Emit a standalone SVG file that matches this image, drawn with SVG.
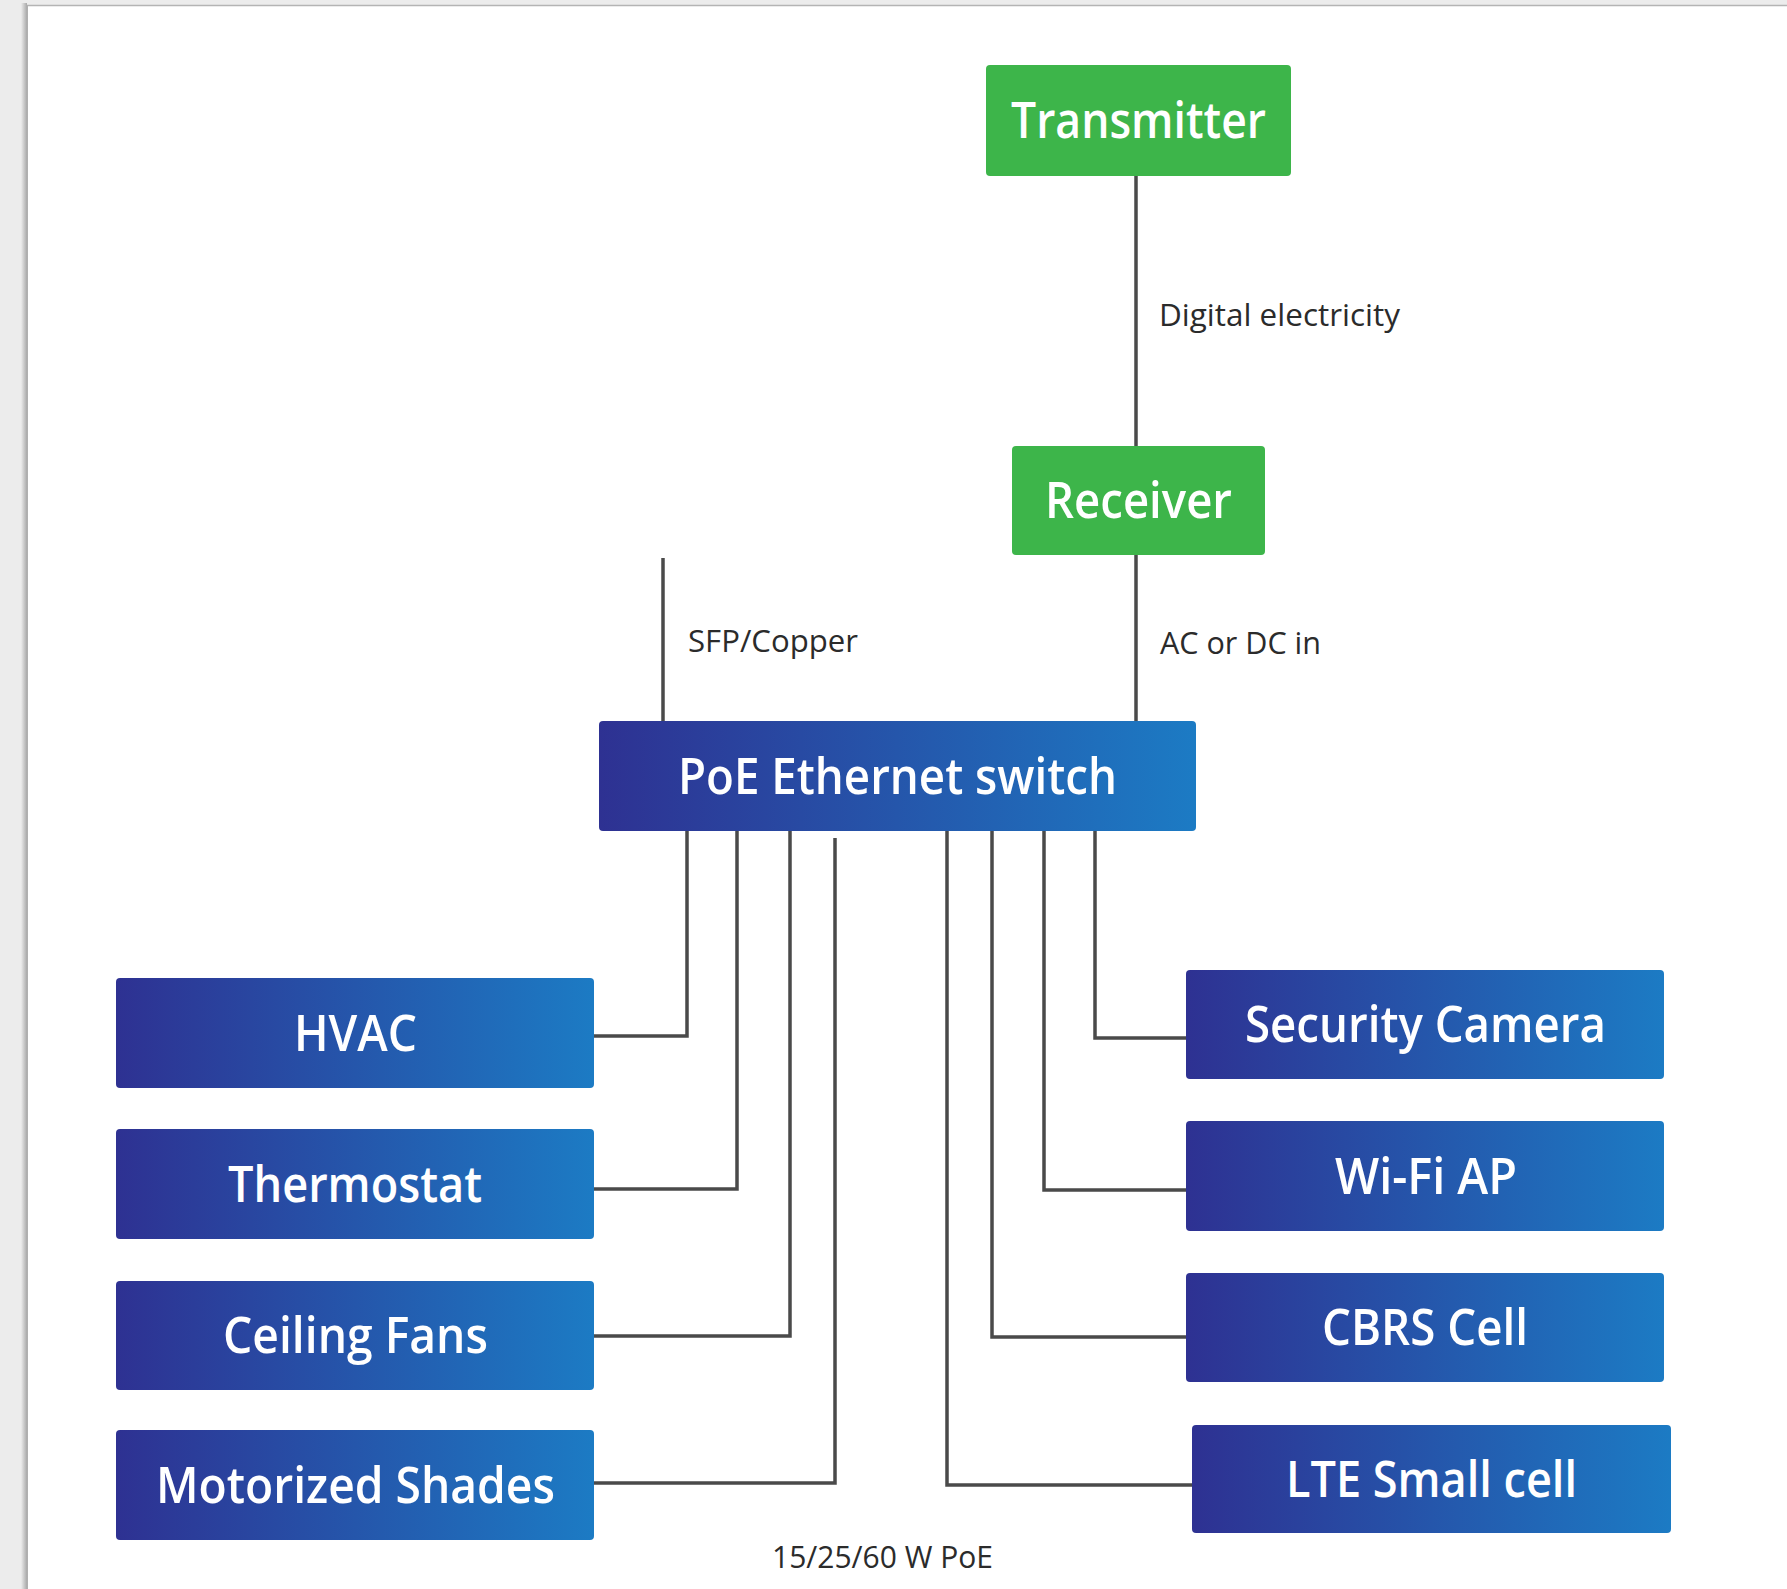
<svg xmlns="http://www.w3.org/2000/svg" width="1787" height="1589" viewBox="0 0 1787 1589">
  <defs>
    <linearGradient id="blue" x1="0" y1="0" x2="1" y2="0">
      <stop offset="0" stop-color="#2e3192"/>
      <stop offset="1" stop-color="#1c7bc4"/>
    </linearGradient>
    <linearGradient id="shadowL" x1="0" y1="0" x2="1" y2="0">
      <stop offset="0" stop-color="#ececec"/>
      <stop offset="1" stop-color="#a9a9a9"/>
    </linearGradient>
  </defs>
  <style>
    .green { fill: #3db54a; }
    .blue { fill: url(#blue); }
    .lbl { font-family: "Open Sans", "Noto Sans", "Liberation Sans", sans-serif; font-weight: 600; font-size: 51px; fill: #ffffff; }
    .small { font-family: "Open Sans", "Noto Sans", "Liberation Sans", sans-serif; font-weight: 400; font-size: 31px; fill: #2b2b2b; }
    .wire { fill: none; stroke: #4a4a4a; stroke-width: 3.5; }
  </style>

  <!-- page -->
  <rect x="0" y="0" width="1787" height="1589" fill="#ececec"/>
  <rect x="21" y="3" width="6" height="1586" fill="url(#shadowL)"/>
  <rect x="27" y="5" width="1760" height="1584" fill="#ffffff"/>
  <line x1="27" y1="5.5" x2="1787" y2="5.5" stroke="#b4b4b4" stroke-width="1.5"/>
  <line x1="27.5" y1="5" x2="27.5" y2="1589" stroke="#b0b0b0" stroke-width="1"/>

  <!-- connectors -->
  <g id="connectors">
    <line class="wire" x1="1136" y1="176" x2="1136" y2="446"/>
    <line class="wire" x1="1136" y1="555" x2="1136" y2="721"/>
    <line class="wire" x1="663" y1="558" x2="663" y2="721"/>
    <polyline class="wire" points="687,831 687,1036 594,1036"/>
    <polyline class="wire" points="737,831 737,1189 594,1189"/>
    <polyline class="wire" points="790,831 790,1336 594,1336"/>
    <polyline class="wire" points="835,838 835,1483 594,1483"/>
    <polyline class="wire" points="1095,831 1095,1038 1186,1038"/>
    <polyline class="wire" points="1044,831 1044,1190 1186,1190"/>
    <polyline class="wire" points="992,831 992,1337 1186,1337"/>
    <polyline class="wire" points="947,831 947,1485 1192,1485"/>
    <text class="small" x="1159" y="326" textLength="241" lengthAdjust="spacingAndGlyphs">Digital electricity</text>
    <text class="small" x="688" y="652" textLength="170" lengthAdjust="spacingAndGlyphs">SFP/Copper</text>
    <text class="small" x="1160" y="654" textLength="161" lengthAdjust="spacingAndGlyphs">AC or DC in</text>
    <text class="small" x="772" y="1568" textLength="221" lengthAdjust="spacingAndGlyphs">15/25/60 W PoE</text>
  </g>

  <g id="transmitter">
    <rect class="green" x="986" y="65" width="305" height="111" rx="4"/>
    <text class="lbl" x="1011" y="138" textLength="255" lengthAdjust="spacingAndGlyphs">Transmitter</text>
  </g>
  <g id="receiver">
    <rect class="green" x="1012" y="446" width="253" height="109" rx="4"/>
    <text class="lbl" x="1045" y="518" textLength="187" lengthAdjust="spacingAndGlyphs">Receiver</text>
  </g>
  <g id="switch">
    <rect class="blue" x="599" y="721" width="597" height="110" rx="4"/>
    <text class="lbl" x="678" y="794" textLength="439" lengthAdjust="spacingAndGlyphs">PoE Ethernet switch</text>
  </g>

  <g id="hvac">
    <rect class="blue" x="116" y="978" width="478" height="110" rx="4"/>
    <text class="lbl" x="294" y="1051" textLength="123" lengthAdjust="spacingAndGlyphs">HVAC</text>
  </g>
  <g id="thermostat">
    <rect class="blue" x="116" y="1129" width="478" height="110" rx="4"/>
    <text class="lbl" x="228" y="1202" textLength="254" lengthAdjust="spacingAndGlyphs">Thermostat</text>
  </g>
  <g id="ceiling-fans">
    <rect class="blue" x="116" y="1281" width="478" height="109" rx="4"/>
    <text class="lbl" x="223" y="1353" textLength="265" lengthAdjust="spacingAndGlyphs">Ceiling Fans</text>
  </g>
  <g id="motorized-shades">
    <rect class="blue" x="116" y="1430" width="478" height="110" rx="4"/>
    <text class="lbl" x="156" y="1503" textLength="399" lengthAdjust="spacingAndGlyphs">Motorized Shades</text>
  </g>

  <g id="security-camera">
    <rect class="blue" x="1186" y="970" width="478" height="109" rx="4"/>
    <text class="lbl" x="1245" y="1042" textLength="361" lengthAdjust="spacingAndGlyphs">Security Camera</text>
  </g>
  <g id="wifi-ap">
    <rect class="blue" x="1186" y="1121" width="478" height="110" rx="4"/>
    <text class="lbl" x="1335" y="1194" textLength="182" lengthAdjust="spacingAndGlyphs">Wi-Fi AP</text>
  </g>
  <g id="cbrs-cell">
    <rect class="blue" x="1186" y="1273" width="478" height="109" rx="4"/>
    <text class="lbl" x="1322" y="1345" textLength="206" lengthAdjust="spacingAndGlyphs">CBRS Cell</text>
  </g>
  <g id="lte-small-cell">
    <rect class="blue" x="1192" y="1425" width="479" height="108" rx="4"/>
    <text class="lbl" x="1286" y="1497" textLength="291" lengthAdjust="spacingAndGlyphs">LTE Small cell</text>
  </g>
</svg>
